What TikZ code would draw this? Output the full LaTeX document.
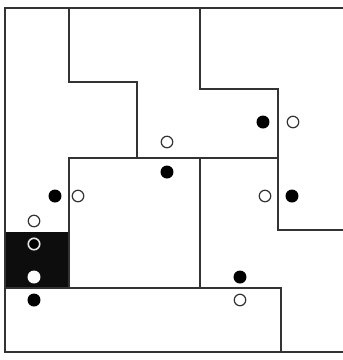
\documentclass[tikz,border=0pt]{standalone}
\usepackage{tikz}
\begin{document}
\begin{tikzpicture}[x=1pt,y=-1pt,line width=1.5pt,draw=black!80,
  full/.style={circle,fill=black,inner sep=0pt,minimum size=13pt},
  hollow/.style={circle,draw=black!80,line width=1.2pt,fill=white,inner sep=0pt,minimum size=11.5pt}]
\useasboundingbox (0,0) rectangle (343,360);
\fill[black!95] (5,232) rectangle (69,288);
\draw (343,8)--(5,8)--(5,352)--(343,352);
\draw (69,8)--(69,82)--(137,82)--(137,158)--(278,158)--(278,89)--(200,89)--(200,8);
\draw (69,288)--(69,158)--(137,158);
\draw (200,158)--(200,288);
\draw (5,288)--(281,288)--(281,352);
\draw (278,158)--(278,230)--(343,230);
% pairs of dots
\node[hollow] (h1) at (167,142) {};\node[full] (f1) at (167,172) {};
\node[full] (f2) at (263,122) {};\node[hollow] (h2) at (293,122) {};
\node[full] (f3) at (55,196) {};\node[hollow] (h3) at (78,196) {};
\node[hollow] (h4) at (265,196) {};\node[full] (f4) at (292,196) {};
\node[hollow] (h5) at (34,221) {};
\node[hollow,draw=white!80!gray,line width=1.6pt,fill=black] (h6) at (34,244) {};
\node[full,fill=white] (f6) at (34,277) {};
\node[full] (f5) at (34,300) {};
\node[full] (f7) at (240,277) {};\node[hollow] (h7) at (240,300) {};
\end{tikzpicture}
\end{document}
